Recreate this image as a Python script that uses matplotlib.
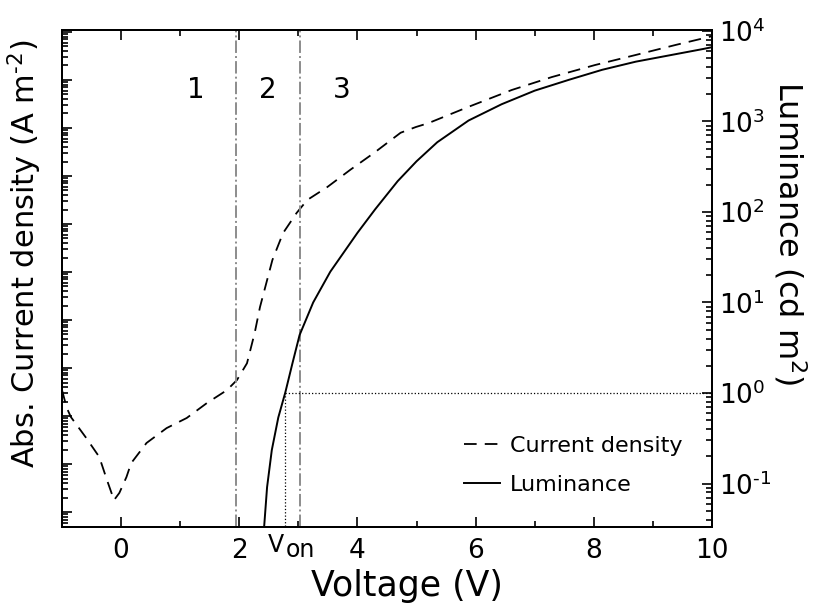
import numpy as np
import matplotlib.pyplot as plt
from matplotlib.ticker import LogLocator, NullFormatter, FixedLocator, FuncFormatter
import matplotlib.transforms as mtransforms

# current density (dashed, left axis, arbitrary A m^-2 decades)
v_j = [-1.0, -0.92, -0.85, -0.60, -0.37, -0.24, -0.12, -0.03, 0.09, 0.17, 0.43, 0.77,
       1.11, 1.45, 1.79, 1.96, 2.13, 2.26, 2.35, 2.56, 2.74, 2.97, 3.15, 3.49, 3.88,
       4.28, 4.73, 4.99, 5.20, 5.88, 6.61, 7.29, 8.02, 8.71, 9.39, 10.0]
log_j = [-3.46, -3.83, -4.02, -4.44, -4.85, -5.33, -5.75, -5.60, -5.27, -4.98, -4.56, -4.25,
         -4.04, -3.73, -3.46, -3.25, -2.90, -2.27, -1.73, -0.75, -0.19, 0.23, 0.50, 0.77, 1.13,
         1.48, 1.90, 2.02, 2.10, 2.44, 2.79, 3.06, 3.31, 3.52, 3.73, 3.91]

# luminance (solid, right axis, cd m^-2)
v_l = [2.40, 2.42, 2.47, 2.55, 2.66, 2.78, 2.90, 3.02, 3.25, 3.54, 4.00, 4.30, 4.68,
       5.00, 5.35, 5.88, 6.44, 7.00, 7.58, 8.14, 8.71, 9.28, 9.85, 10.0]
log_l = [-2.0, -1.48, -1.04, -0.63, -0.27, 0.01, 0.33, 0.64, 1.00, 1.34, 1.77, 2.03, 2.34,
         2.56, 2.77, 3.01, 3.19, 3.34, 3.46, 3.57, 3.66, 3.73, 3.80, 3.82]

v_regions = [1.94, 3.03]
v_on = 2.78
region_labels = ["1", "2", "3"]
region_x = [1.26, 2.49, 3.73]

J = 10 ** np.array(log_j)
L = 10 ** np.array(log_l)

plt.rcParams['font.family'] = 'DejaVu Sans'
fig = plt.figure(figsize=(8.13, 6.08), dpi=100)
ax = fig.add_axes([0.0763, 0.1332, 0.7995, 0.8175])
ax2 = ax.twinx()

ln1, = ax.plot(v_j, J, color='black', lw=1.3, dashes=(7, 4.5), label='Current density')
ln2, = ax2.plot(v_l, L, color='black', lw=1.4, label='Luminance')

ax.set_xlim(-1, 10)
ax.set_yscale('log')
ax.set_ylim(10 ** -6.31, 10 ** 4.04)
ax2.set_yscale('log')
ax2.set_ylim(10 ** -1.48, 10 ** 4.01)

for xv in v_regions:
    ax.axvline(xv, color='#8c8c8c', lw=1.4, ls='-.')

# V_on guide lines
ax2.plot([v_on, v_on], [1e-3, 1], color='black', lw=0.9, ls=':')
ax2.plot([v_on, 10], [1, 1], color='black', lw=0.9, ls=':')

trans = mtransforms.blended_transform_factory(ax.transData, ax.transAxes)
for lab, xv in zip(region_labels, region_x):
    ax.text(xv, 0.88, lab, transform=trans, ha='center', va='center', fontsize=20)

ax.set_xticks([0, 2, 4, 6, 8, 10])
ax.xaxis.set_minor_locator(FixedLocator([-1, 1, 3, 5, 7, 9]))
ax.yaxis.set_major_locator(LogLocator(base=10, numticks=30))
ax.yaxis.set_minor_locator(LogLocator(base=10, subs=np.arange(2, 10), numticks=100))
ax.yaxis.set_major_formatter(NullFormatter())
ax.yaxis.set_minor_formatter(NullFormatter())
ax2.yaxis.set_major_locator(LogLocator(base=10, numticks=30))
ax2.yaxis.set_minor_locator(LogLocator(base=10, subs=np.arange(2, 10), numticks=100))
ax2.yaxis.set_minor_formatter(NullFormatter())
ax2.yaxis.set_major_formatter(FuncFormatter(
    lambda v, p: r'$\mathregular{10^{\text{-}%d}}$' % round(-np.log10(v)) if v < 1
    else r'$\mathregular{10^{%d}}$' % round(np.log10(v))))

ax.tick_params(which='both', direction='in', top=True, right=False, labelsize=19, width=1.2)
ax.tick_params(which='major', length=7)
ax.tick_params(which='minor', length=4)
ax.tick_params(axis='x', pad=8)
ax2.tick_params(which='both', direction='in', labelsize=19, width=1.2, pad=5)
ax2.tick_params(which='major', length=7)
ax2.tick_params(which='minor', length=4)
for a in (ax, ax2):
    for s in a.spines.values():
        s.set_linewidth(1.4)

ax.text(2.62, -0.036, 'V', transform=trans, ha='center', va='center', fontsize=17)
ax.text(3.03, -0.047, 'on', transform=trans, ha='center', va='center', fontsize=17)

ax.set_xlabel('Voltage (V)', fontsize=25)
ax.xaxis.set_label_coords(0.53, -0.085)
ax.set_ylabel(r'Abs. Current density (A m$^{\text{-}2}$)', fontsize=22)
ax.yaxis.set_label_coords(-0.028, 0.55)
ax2.set_ylabel('Luminance (cd m$^{2}$)', fontsize=23, rotation=270, va='center')
ax2.yaxis.set_label_coords(1.12, 0.59)

ax2.legend([ln1, ln2], ['Current density', 'Luminance'], loc='lower right',
           bbox_to_anchor=(0.985, 0.025), frameon=False, fontsize=16, handlelength=1.6,
           handletextpad=0.45, labelspacing=0.85)

fig.savefig('out.png', dpi=100)
